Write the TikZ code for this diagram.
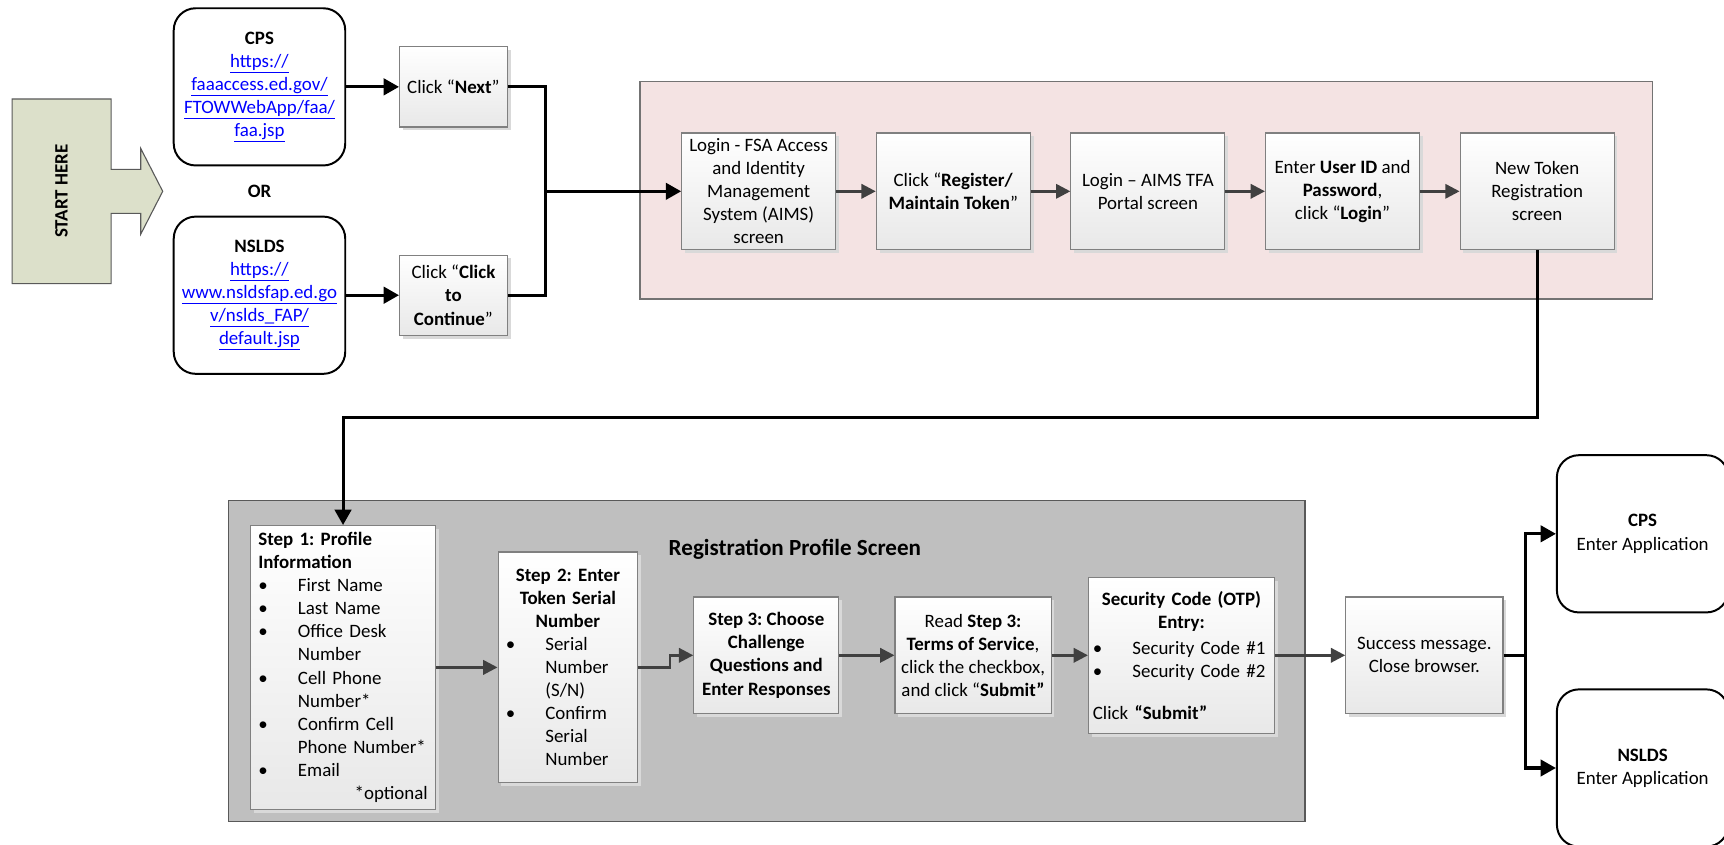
\documentclass[tikz,border=0pt]{standalone}
\usepackage{fontspec}
\setmainfont{Carlito}
\usetikzlibrary{shapes,positioning,calc,arrows.meta,shadows}
\setlength{\parindent}{0pt}
\frenchspacing
\definecolor{pinkbg}{HTML}{F4E3E3}
\definecolor{graybg}{HTML}{BFBFBF}
\definecolor{startbg}{HTML}{DCE0CA}
\definecolor{lnkblue}{HTML}{0000FF}
\definecolor{darkline}{HTML}{404040}
\newcommand{\lnk}[1]{\textcolor{lnkblue}{\underline{#1}}}
\newcommand{\itm}[1]{\makebox[36pt][l]{\textbullet}#1}
\newcommand{\ind}{\hspace*{36pt}}

\begin{document}
\begin{tikzpicture}[
      x=1pt, y=-1pt,
      font=\fontsize{17.2}{21}\selectfont,
      node distance=36pt,
      stepbox/.style = {draw=black!50, line width=1pt, top color=white, bottom color=black!9,
        drop shadow={shadow xshift=3pt, shadow yshift=-3pt, fill=black!15, opacity=1},
        align=center, minimum width=140pt, minimum height=106pt, inner xsep=4pt, inner ysep=1pt},
      portal/.style = {draw, line width=1.8pt, rounded corners=20pt, fill=white, align=center,
        minimum width=156pt, minimum height=143pt},
      panel/.style = {draw=black!55, line width=1.2pt},
      bold/.style = {font=\fontsize{17.2}{21}\selectfont\bfseries},
      main/.style = {line width=2.8pt, -{Triangle[length=14pt,width=15pt]}},
      mainline/.style = {line width=2.8pt},
      flow/.style = {darkline, line width=2.4pt, -{Triangle[length=13pt,width=13pt]}}
      ]
      \useasboundingbox (0,0) rectangle (1568,768);

      % backgrounds
      \draw[panel, fill=pinkbg] (582,74) rectangle (1503,272);
      \draw[panel, draw=black!65, fill=graybg] (208,455) rectangle (1187,747);
      \draw[draw=black!65, line width=1pt, fill=startbg] (11,90) -- (101,90) -- (101,154) -- (128,154)
        -- (128,135) -- (148,174) -- (128,213) -- (128,194) -- (101,194) -- (101,258) -- (11,258) -- cycle;
      \node[bold, rotate=90] (start) at (56,174) {START HERE};

      % entry portals
      \node[portal] (cps) at (236,79) {\textbf{CPS}\\\lnk{https://}\\\lnk{faaaccess.ed.gov/}\\\lnk{FTOWWebApp/faa/}\\\lnk{faa.jsp}};
      \node[bold] (or) at (236,174) {OR};
      \node[portal] (nslds) at (236,268.5) {\textbf{NSLDS}\\\lnk{https://}\\\lnk{www.nsldsfap.ed.go}\\\lnk{v/nslds\_FAP/}\\\lnk{default.jsp}};
      \node[stepbox, minimum width=98pt, minimum height=73pt, right=48pt of cps] (next) {Click “\textbf{Next}”};
      \node[stepbox, minimum width=98pt, minimum height=73pt, right=48pt of nslds] (cont) {Click “\textbf{Click}\\\textbf{to}\\\textbf{Continue}”};

      % login screens
      \node[stepbox] (fsa) at (690,174) {Login - FSA Access\\and Identity\\Management\\System (AIMS)\\screen};
      \node[stepbox, right=of fsa] (reg) {Click “\textbf{Register/}\\\textbf{Maintain Token}”};
      \node[stepbox, right=of reg] (aims) {Login – AIMS TFA\\Portal screen};
      \node[stepbox, right=of aims] (user) {Enter \textbf{User ID} and\\\textbf{Password},\\click “\textbf{Login}”};
      \node[stepbox, right=of user] (tok) {New Token\\Registration\\screen};

      % registration profile
      \node[font=\fontsize{21}{25}\selectfont\bfseries] (title) at (723,500) {Registration Profile Screen};
      \node[stepbox, minimum width=168pt, minimum height=258pt, text width=154pt, inner xsep=7pt, inner ysep=2pt, align=left] (step1) at (312,607)
        {\textbf{Step 1: Profile}\\\textbf{Information}\\\itm{First Name}\\\itm{Last Name}\\\itm{Office Desk}\\\ind Number\\\itm{Cell Phone}\\\ind Number*\\\itm{Confirm Cell}\\\ind Phone Number*\\\itm{Email}\\\mbox{}\hfill*optional};
      \node[stepbox, minimum width=127pt, minimum height=210pt, text width=113pt, inner xsep=7pt, inner ysep=2pt, align=left, right=56pt of step1] (step2)
        {{\centering\textbf{Step 2: Enter}\\\textbf{Token Serial}\\\textbf{Number}\par}\itm{Serial}\\\ind Number\\\ind (S/N)\\\itm{Confirm}\\\ind Serial\\\ind Number};
      \node[stepbox, minimum width=132pt] (choose) at (697,596) {\textbf{Step 3: Choose}\\\textbf{Challenge}\\\textbf{Questions and}\\\textbf{Enter Responses}};
      \node[stepbox, minimum width=142pt, right=50pt of choose] (terms) {Read \textbf{Step 3:}\\\textbf{Terms of Service},\\click the checkbox,\\and click “\textbf{Submit”}};
      \node[stepbox, minimum width=169pt, minimum height=142pt, text width=161pt, inner xsep=4pt, align=left, right=33pt of terms] (otp)
        {{\centering\textbf{Security Code (OTP)}\\\textbf{Entry:}\par}\vspace{3pt}\itm{Security Code \#1}\\\itm{Security Code \#2}\\[17pt]Click \textbf{“Submit”}};
      \node[stepbox, minimum width=143pt, right=64pt of otp] (done) {Success message.\\Close browser.};

      % exits
      \node[portal] (cpsapp) at (1494,485.5) {\textbf{CPS}\\Enter Application};
      \node[portal] (nsapp) at (1494,698.5) {\textbf{NSLDS}\\Enter Application};

      % connectors
      \coordinate (join) at (496,174);
      \draw[main] (cps) -- (next);
      \draw[main] (nslds) -- (cont);
      \draw[mainline] (next.east) -| (join);
      \draw[mainline] (cont.east) -| (join);
      \draw[main] (join) -- (fsa.west);
      \draw[flow] (fsa) -- (reg);
      \draw[flow] (reg) -- (aims);
      \draw[flow] (aims) -- (user);
      \draw[flow] (user) -- (tok);
      \draw[main] (tok.south) -- ++(0,152) -| (step1.north);
      \draw[flow] (step1) -- (step2);
      \draw[flow] (step2.east) -- ++(29,0) |- (choose.west);
      \draw[flow] (choose) -- (terms);
      \draw[flow] (terms) -- (otp);
      \draw[flow] (otp) -- (done);
      \coordinate (fork) at ($(done.east)+(20,0)$);
      \draw[mainline] (done.east) -- (fork);
      \draw[main] (fork) |- (cpsapp.west);
      \draw[main] (fork) |- (nsapp.west);
    \end{tikzpicture}
\end{document}
